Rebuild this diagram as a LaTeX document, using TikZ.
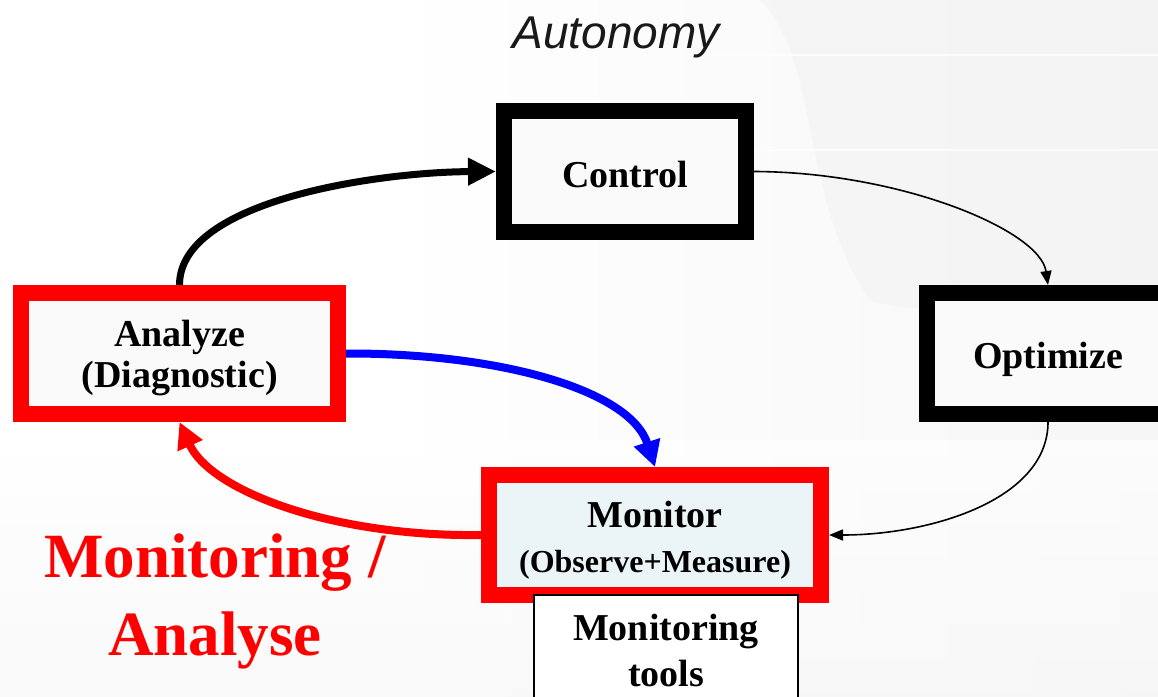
\documentclass[tikz,border=0pt]{standalone}
\usepackage{fontspec}
\setmainfont{Liberation Serif}
\newfontfamily\headfont{Liberation Sans}
\usetikzlibrary{arrows.meta}
\definecolor{boxfill}{HTML}{FAFAFA}
\definecolor{monfill}{HTML}{EBF4F6}
\definecolor{loopblue}{HTML}{0000FF}
\definecolor{loopred}{HTML}{FF0000}
\begin{document}
\begin{tikzpicture}[x=1pt,y=-1pt,
  frame/.style={draw, line width=16pt, fill=boxfill, inner sep=0pt, align=center,
    font=\bfseries\fontsize{38}{41}\selectfont},
  thinlink/.style={line width=1.6pt, -{Triangle[length=14pt,width=11pt]}},
  thicklink/.style={line width=8pt, -{Triangle[length=26pt,width=26pt]}}]
\useasboundingbox (0,0) rectangle (1158,696);
\clip (0,0) rectangle (1158,696);

% faded backdrop
\fill[white] (0,0) rectangle (1158,696);
\shade[left color=white, right color=gray!7] (380,0) rectangle (1158,696);
\shade[top color=white, bottom color=gray!6, opacity=.7] (0,440) rectangle (1158,696);
\fill[gray!10, opacity=.5] (760,0) .. controls (820,60) and (800,200) .. (870,300)
  .. controls (960,330) and (1080,270) .. (1158,310) -- (1158,0) -- cycle;
\draw[white, line width=1.5pt, opacity=.8] (700,55) -- (1158,55);
\draw[white, line width=1.5pt, opacity=.8] (380,150) -- (1158,150);

% title
\node[anchor=base, font=\headfont\itshape\fontsize{46}{50}\selectfont, text=black!90]
  (title) at (616,48) {Autonomy};

% boxes of the loop
\node[frame, minimum width=242pt, minimum height=121pt, text height=31pt, text depth=0pt]
  (ctrl) at (625,171.5) {Control};
\node[frame, minimum width=242pt, minimum height=121pt, text height=29pt, text depth=0pt]
  (opt) at (1048,353.5) {Optimize};
\node[frame, draw=loopred, minimum width=317pt, minimum height=121pt,
  text height=67pt, text depth=0pt]
  (ana) at (179.5,353.5) {Analyze\\(Diagnostic)};
\node[frame, draw=loopred, fill=monfill, minimum width=332pt, minimum height=120pt,
  font=\bfseries\fontsize{38}{45}\selectfont, text height=74pt, text depth=0pt]
  (mon) at (655,535) {Monitor\\{\fontsize{32}{45}\selectfont (Observe+Measure)}};
\node[draw, line width=2pt, fill=white, inner sep=0pt, align=center,
  minimum width=264pt, minimum height=130pt,
  font=\bfseries\fontsize{38}{46}\selectfont, text height=52pt, text depth=0pt]
  (tools) at (666,660) {Monitoring\\tools};

% connectors
\draw[line width=7pt, -{Triangle[length=28pt,width=26pt]}]
  (ana.north) .. controls (179.5,200) and (380,172) .. (ctrl.west);
\draw[thinlink] (ctrl.east) .. controls (900,172) and (1040,230) .. (opt.north);
\draw[thinlink] (opt.south) .. controls (1048,500) and (930,535) .. (mon.east);
\draw[thicklink, loopblue] (ana.east) .. controls (500,353) and (630,390) .. (mon.north);
\draw[thicklink, loopred] (mon.west) .. controls (330,537) and (210,490) .. (ana.south);

% caption
\node[anchor=base, align=center, text=loopred,
  font=\bfseries\fontsize{63}{78}\selectfont]
  (caption) at (215,655) {Monitoring /\\Analyse};
\end{tikzpicture}
\end{document}
